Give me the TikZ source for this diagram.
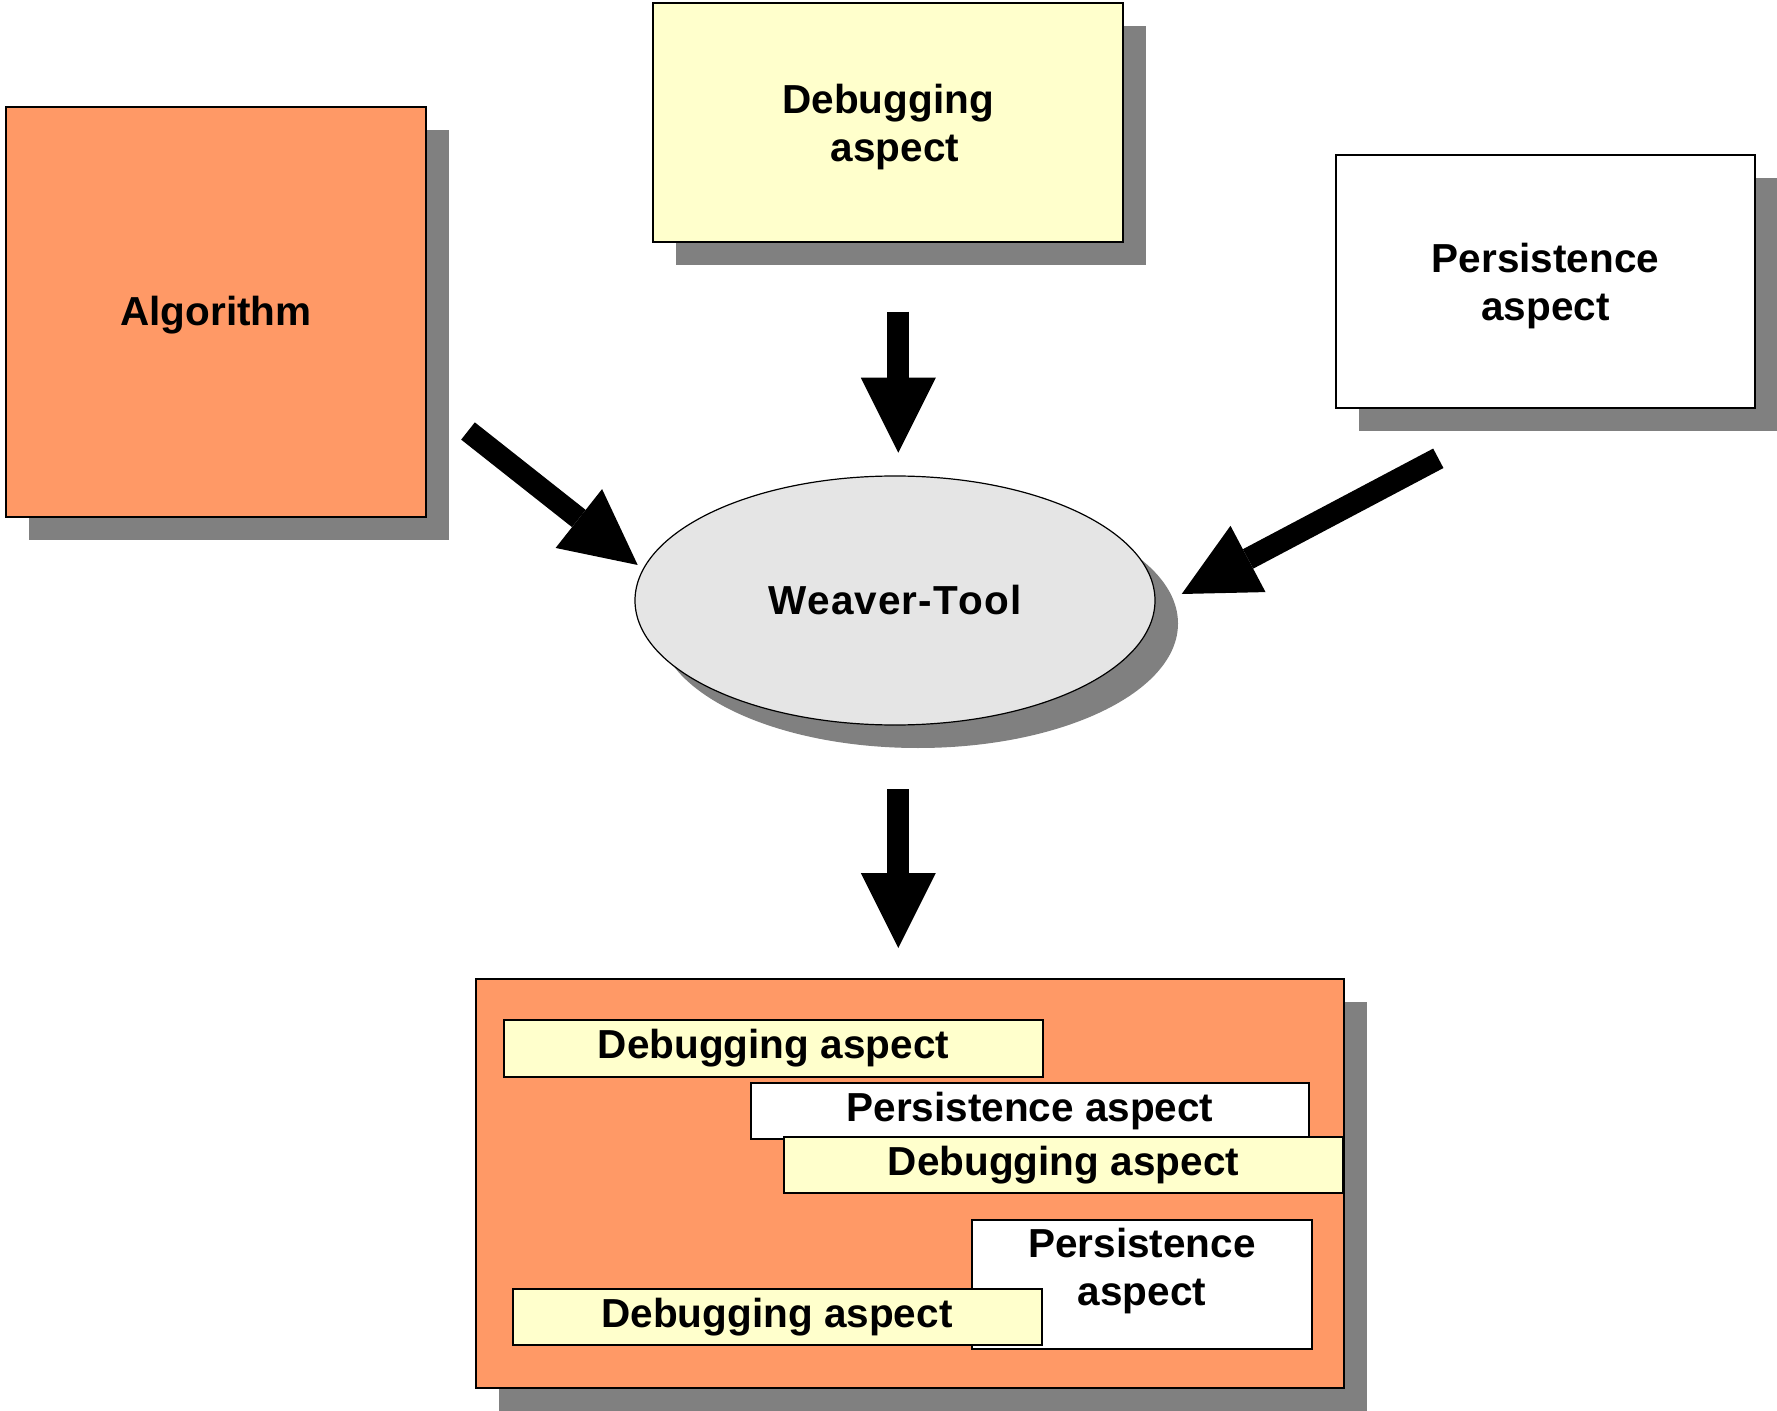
\documentclass[tikz,border=0pt]{standalone}
\usepackage{fontspec}
\setmainfont{Liberation Sans}
\usetikzlibrary{shapes.geometric,shadows,arrows.meta}
\definecolor{orangebox}{HTML}{FF9966}
\definecolor{paleyellow}{HTML}{FFFFCC}
\definecolor{shade}{HTML}{808080}
\definecolor{ellfill}{HTML}{E5E5E5}
\begin{document}
\begin{tikzpicture}[x=0.5pt,y=-0.5pt,
  every node/.style={font=\fontsize{20.25pt}{24pt}\selectfont\bfseries,
                     inner sep=0pt, align=center},
  every label/.style={inner sep=0pt, align=center},
  shadowed/.style={drop shadow={shadow xshift=11.5pt, shadow yshift=-11.5pt,
                                fill=shade, opacity=1}},
  bigbox/.style={rectangle, draw=black, line width=1pt, shadowed},
  tag/.style={rectangle, draw=black, line width=1pt},
  bigarrow/.style={line width=11pt,
                   -{Triangle[length=37.5pt,width=37.5pt,line width=0pt]}}
]
\useasboundingbox (0,0) rectangle (1777,1411);
\clip (0,0) rectangle (1777,1411);

% inputs
\node[bigbox, fill=orangebox, minimum width=210pt, minimum height=205pt,
      label={[yshift=-1.7pt]center:Algorithm}]
  (alg) at (216,312) {};
\node[bigbox, fill=paleyellow, minimum width=235pt, minimum height=119.5pt,
      label={[yshift=-2.5pt]center:{Debugging\\\hspace*{7pt}aspect}}]
  (dbg) at (888,122.5) {};
\node[bigbox, fill=white, minimum width=209.5pt, minimum height=126.5pt,
      label={[yshift=-2.5pt]center:{Persistence\\aspect}}]
  (per) at (1545.5,281.5) {};

% the weaver
\node[ellipse, draw=black, line width=0.6pt, fill=ellfill, shadowed,
      minimum width=260pt, minimum height=124.5pt,
      font=\fontsize{20.25pt}{24pt}\selectfont\bfseries\addfontfeatures{Kerning=Off,LetterSpace=2.5}]
  (wt) at (895,600.5) {Weaver-Tool};

% woven result
\node[bigbox, fill=orangebox, minimum width=434pt, minimum height=204.5pt]
  (res) at (910,1183.5) {};
\node[tag, fill=paleyellow, minimum width=269.5pt, minimum height=28.5pt]
  (d1) at (773.5,1048.5) {Debugging aspect};
\node[tag, fill=white, minimum width=279pt, minimum height=28pt]
  (p1) at (1030,1111) {Persistence aspect};
\node[tag, fill=paleyellow, minimum width=279.5pt, minimum height=28pt]
  (d2) at (1063.5,1165) {Debugging aspect};
\node[tag, fill=white, minimum width=170pt, minimum height=64.5pt]
  (p2) at (1142,1284.5) {};
\node (p2text) at (1142,1270.7) {Persistence\\aspect};
\node[tag, fill=paleyellow, minimum width=264.5pt, minimum height=28pt]
  (d3) at (777,1317) {Debugging aspect};

% block arrows
\coordinate (topS) at (898.3,311.7);
\coordinate (topE) at (898.3,452.7);
\coordinate (leftS) at (468,431);
\coordinate (leftE) at (637.7,565);
\coordinate (rightS) at (1438.3,458.3);
\coordinate (rightE) at (1181.7,594);
\coordinate (outS) at (898.3,789);
\coordinate (outE) at (898.3,948);
\draw[bigarrow] (topS) -- (topE);
\draw[bigarrow] (leftS) -- (leftE);
\draw[bigarrow] (rightS) -- (rightE);
\draw[bigarrow] (outS) -- (outE);
\end{tikzpicture}
\end{document}
